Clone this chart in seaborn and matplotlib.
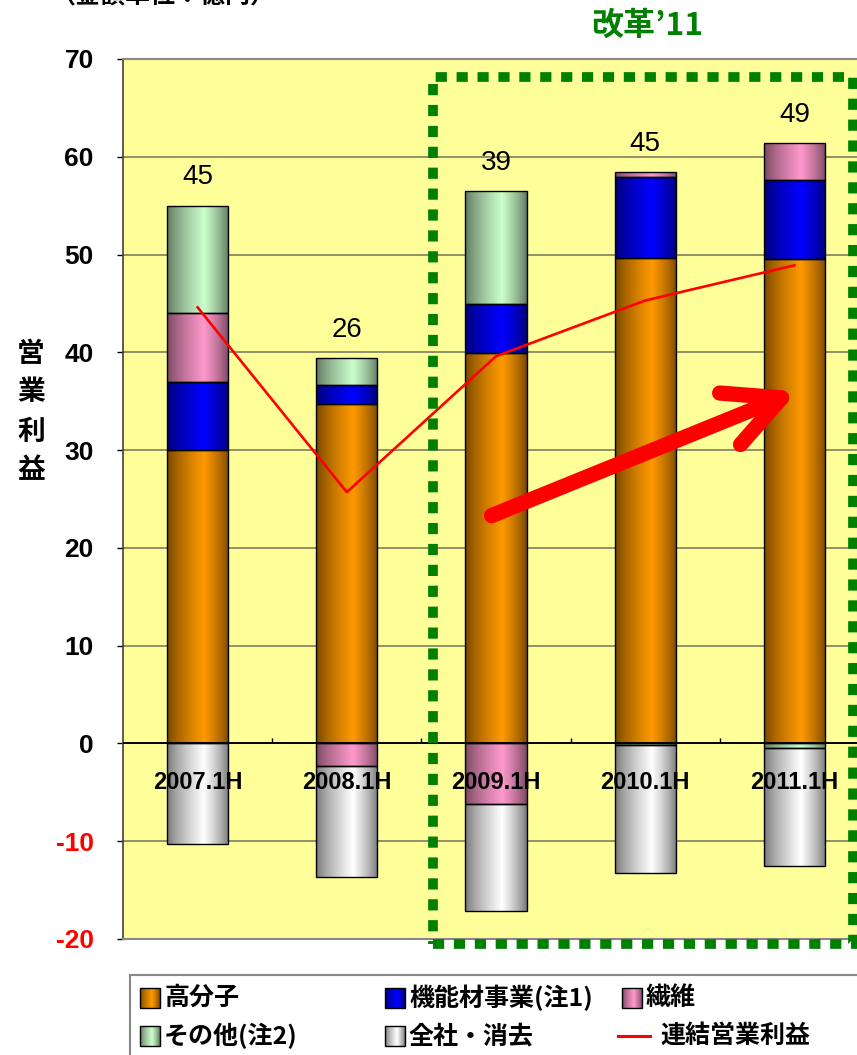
import numpy as np
import pandas as pd
import matplotlib
matplotlib.use("Agg")
import matplotlib.pyplot as plt
import seaborn as sns
from matplotlib.patches import Rectangle
from matplotlib.colors import to_rgb

# ---------------- data ----------------
periods = ["2007.1H", "2008.1H", "2009.1H", "2010.1H", "2011.1H"]
polymer = [30.0, 34.7, 39.9, 49.6, 49.5]          # 高分子
functional = [7.0, 2.0, 5.0, 8.3, 8.1]            # 機能材事業(注1)
fiber_pos = [7.0, 0.0, 0.0, 0.5, 3.8]             # 繊維 (positive part)
other_pos = [11.0, 2.7, 11.6, 0.0, 0.0]           # その他(注2) (positive part)
fiber_neg = [0.0, -2.3, -6.2, 0.0, 0.0]           # 繊維 (negative part)
other_neg = [0.0, 0.0, 0.0, -0.2, -0.5]           # その他(注2) (negative part)
corporate = [-10.3, -11.4, -10.9, -13.0, -12.0]   # 全社・消去
consolidated = [44.6, 25.7, 39.6, 45.3, 48.9]     # 連結営業利益
total_labels = ["45", "26", "39", "45", "49"]
yticks = [-20, -10, 0, 10, 20, 30, 40, 50, 60, 70]
series_names = ["高分子", "機能材事業(注1)", "繊維", "その他(注2)", "全社・消去", "連結営業利益"]
series_colors = ["#FF9900", "#0000FF", "#FF99CC", "#CCFFCC", "#FFFFFF", "#FF0000"]

# ---------------- style ----------------
plt.rcParams["font.family"] = ["Noto Sans CJK JP", "DejaVu Sans"]
NUM_FONT = ["Liberation Sans", "DejaVu Sans"]
NARROW_FONT = ["Liberation Sans Narrow", "Liberation Sans", "DejaVu Sans"]

W, H = 857, 1055
fig = plt.figure(figsize=(W / 100, H / 100), dpi=100)
ax = fig.add_axes([123 / W, 116 / H, 746 / W, 880 / H])
ax.set_facecolor("#FFFF99")


def draw_layer(values, bottoms, color):
    idx = [i for i, v in enumerate(values) if v != 0]
    if not idx:
        return
    sns.barplot(x=[periods[i] for i in idx], y=[values[i] for i in idx],
                bottom=[bottoms[i] for i in idx], order=periods, color=color,
                saturation=1, width=0.41, edgecolor="black", linewidth=1.0,
                errorbar=None, ax=ax)


zeros = [0.0] * len(periods)
b1 = polymer
b2 = [a + b for a, b in zip(b1, functional)]
b3 = [a + b for a, b in zip(b2, fiber_pos)]
draw_layer(polymer, zeros, series_colors[0])
draw_layer(functional, b1, series_colors[1])
draw_layer(fiber_pos, b2, series_colors[2])
draw_layer(other_pos, b3, series_colors[3])
nb1 = fiber_neg
nb2 = [a + b for a, b in zip(nb1, other_neg)]
draw_layer(fiber_neg, zeros, series_colors[2])
draw_layer(other_neg, nb1, series_colors[3])
draw_layer(corporate, nb2, series_colors[4])


def gradient_colors(base, n=96, peak=0.6, dark=0.45):
    rgb = np.array(to_rgb(base))
    t = np.linspace(0, 1, n)
    f = np.where(t < peak, t / peak, (1 - t) / (1 - peak))
    f = np.clip(f, 0, 1) ** 0.75
    d = rgb * dark
    return (d[None, :] + (rgb - d)[None, :] * f[:, None])[None, :, :]


def shade(axis, patch, base, z=2.0):
    x0, y0 = patch.get_x(), patch.get_y()
    w, h = patch.get_width(), patch.get_height()
    ymin, ymax = min(y0, y0 + h), max(y0, y0 + h)
    im = axis.imshow(gradient_colors(base), extent=[x0, x0 + w, ymin, ymax],
                     aspect="auto", interpolation="bilinear", zorder=z)
    im.set_clip_path(patch)
    patch.set_facecolor("none")
    patch.set_zorder(z + 0.1)


for p in list(ax.patches):
    shade(ax, p, p.get_facecolor())

# consolidated operating profit line
sns.lineplot(x=np.arange(len(periods)), y=consolidated, color="#FF0000",
             linewidth=1.9, ax=ax, zorder=4)

# total labels above bars
for i, lab in enumerate(total_labels):
    ax.annotate(lab, xy=(i, b3[i] + other_pos[i]), xytext=(0, 11),
                textcoords="offset points", ha="center", va="bottom",
                fontsize=20, family=NARROW_FONT, color="black", zorder=6)

# category labels inside the plot
for i, lab in enumerate(periods):
    ax.text(i, -4.0, lab, ha="center", va="center", fontsize=17,
            family=NARROW_FONT, fontweight="bold", color="black", zorder=6)

# axes formatting
ax.set_xlim(-0.5, len(periods) - 0.5)
ax.set_ylim(yticks[0], yticks[-1])
ax.set_xticks([])
ax.set_xlabel("")
ax.set_ylabel("")
ax.set_yticks(yticks)
ax.set_yticklabels([str(v) for v in yticks], family=NUM_FONT, fontsize=19,
                   fontweight="bold")
for lab, v in zip(ax.get_yticklabels(), yticks):
    lab.set_color("#FF0000" if v < 0 else "black")
ax.tick_params(axis="y", direction="out", length=4, width=1, color="black", pad=17)
for v in yticks[1:-1]:
    if v == 0:
        ax.axhline(0, color="black", lw=1.4, zorder=3)
    else:
        ax.axhline(v, color="#8F8F6A", lw=1.4, zorder=0.5)
ax.vlines(np.arange(1, len(periods)) - 0.5, 0, 0.6, color="black", lw=1.0, zorder=3)
for s in ["top", "right", "bottom"]:
    ax.spines[s].set_color("#888888")
    ax.spines[s].set_linewidth(1.5)
ax.spines["left"].set_color("#404040")
ax.spines["left"].set_linewidth(1.2)

# red trend arrow
ax.annotate("", xy=(4.02, 36.0), xytext=(1.97, 23.3),
            arrowprops=dict(arrowstyle="->,head_length=0.8,head_width=0.4",
                            mutation_scale=50, color="#FF0000", lw=11,
                            shrinkA=0, shrinkB=0, capstyle="round",
                            joinstyle="round"), zorder=7)

# green dotted "reform" box
ax.add_patch(Rectangle((1.575, -20.5), 4.395 - 1.575, 68.2 + 20.5, fill=False,
                       edgecolor="#008000", lw=7.0, linestyle=(0, (1.15, 1.0)),
                       clip_on=False, zorder=8))
ax.text(3.01, 73.4, "改革’11", ha="center", va="center", fontsize=23,
        fontweight="bold", color="#008000", clip_on=False)

# titles
fig.text(50 / W, 1 + 3 / H, "（金額単位：億円）", ha="left", va="center",
         fontsize=18, fontweight="bold", color="black")
fig.text(31 / W, 1 - 412 / H, "\n".join("営業利益"), ha="center", va="center",
         fontsize=20, fontweight="bold", linespacing=1.5, color="black")

# legend (drawn in a pixel-coordinate axes)
lax = fig.add_axes([130 / W, 0, (880 - 130) / W, (H - 975) / H])
lax.set_xlim(130, 880)
lax.set_ylim(H, 975)
lax.set_xticks([])
lax.set_yticks([])
lax.set_facecolor("white")
for s in ["top", "left"]:
    lax.spines[s].set_color("#888888")
    lax.spines[s].set_linewidth(1.5)
for s in ["right", "bottom"]:
    lax.spines[s].set_visible(False)
col_x = [140, 385, 622]
row_y = [998, 1036]
order = [(0, 0), (0, 1), (0, 2), (1, 0), (1, 1), (1, 2)]
for k, (r, c) in enumerate(order):
    x, y = col_x[c], row_y[r]
    if k == 5:
        lax.plot([x - 4, x + 28], [y, y], color=series_colors[k], lw=2.2)
        tx = x + 38
    else:
        sq = Rectangle((x, y - 10), 20, 20, facecolor=series_colors[k],
                       edgecolor="black", lw=1.0)
        lax.add_patch(sq)
        shade(lax, sq, series_colors[k])
        tx = x + 24
    lax.text(tx, y, series_names[k], ha="left", va="center", fontsize=18,
             fontweight="bold", color="black")
lax.set_xlim(130, 880)
lax.set_ylim(H, 975)

fig.savefig("out.png", dpi=100)
